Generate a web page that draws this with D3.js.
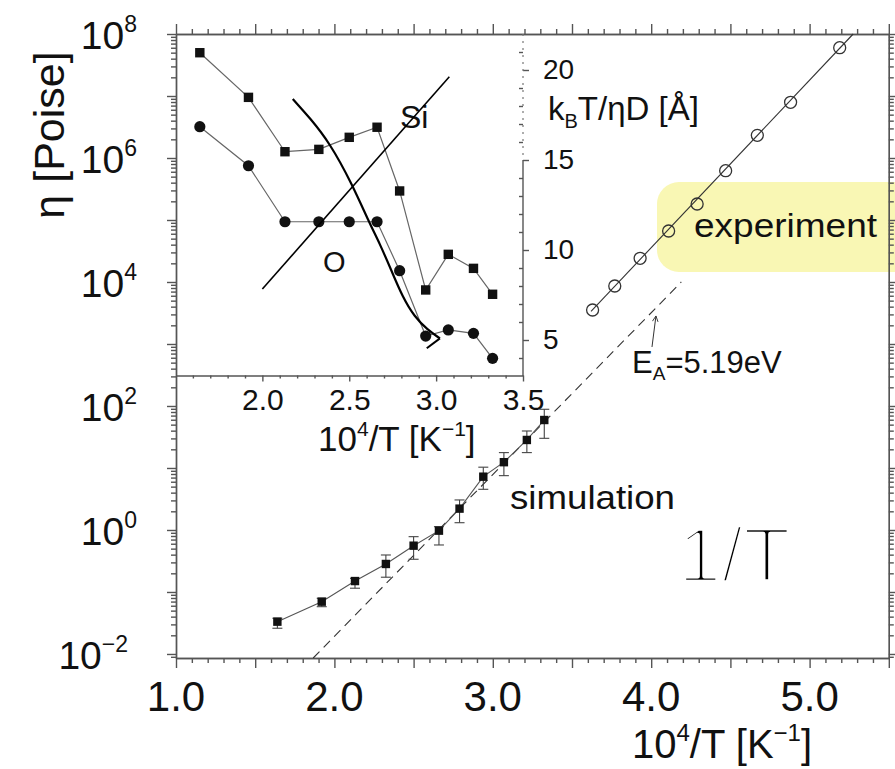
<!DOCTYPE html>
<html lang="en">
<head>
<meta charset="UTF-8">
<title>Viscosity of silica vs inverse temperature</title>
<style>
  body { margin: 0; background: #fff; }
  svg { display: block; font-family: 'Liberation Sans', Arial, sans-serif; }
  .axis path, .axis line { stroke: #555; stroke-width: 1.4; }
  .axis text { fill: #111; font-family: 'Liberation Sans', Arial, sans-serif; }
</style>
</head>
<body>
<svg id="chart" width="895" height="769"></svg>
<script src="https://d3js.org/d3.v7.min.js"></script>
<script>
  // 10^4/T of the simulation runs (same for main plot and inset)
  const invT = [1.64, 1.92, 2.13, 2.325, 2.50, 2.66, 2.79, 2.94, 3.07, 3.215, 3.325];

  // simulated viscosity [Poise] with error bar ends
  const simEta = [0.0332, 0.0698, 0.150, 0.283, 0.558, 0.975, 2.21, 7.24, 12.4, 28.3, 59.4];
  const simLo  = [0.0260, 0.0579, 0.115, 0.173, 0.337, 0.573, 1.31, 4.53, 7.52, 17.7, 30.1];
  const simHi  = [0.0377, 0.0791, 0.166, 0.395, 0.780, 1.13, 3.05, 10.3, 17.7, 39.5, 88.5];

  // experimental viscosity
  const expInvT = [3.63, 3.77, 3.93, 4.11, 4.29, 4.47, 4.67, 4.88, 5.19];
  const expEta  = [3.53e3, 8.61e3, 2.41e4, 6.65e4, 1.81e5, 6.24e5, 2.32e6, 7.91e6, 6.01e7];
  const expFitInvT = [3.62, 5.275];
  const expFitEta  = [3.36e3, 1e8];

  // Arrhenius line, E_A = 5.19 eV
  const arrhInvT = [1.866, 4.19];
  const arrhEta  = [0.00861, 1e4];
  const arrowInvT = [4.005, 4.03];
  const arrowEta  = [895, 2830];

  // inset: k_B T / (eta D) [Angstrom]
  const insetSi = [20.96, 18.48, 15.46, 15.59, 16.26, 16.82, 13.28, 7.78, 9.76, 8.98, 7.54];
  const insetO  = [16.85, 14.68, 11.57, 11.57, 11.57, 11.57, 8.85, 5.22, 5.56, 5.37, 3.98];

  // pen strokes drawn over the inset (inset units)
  const penLineX = [2.0, 3.076];
  const penLineY = [7.83, 19.63];
  const penCurveX = [2.175, 2.274, 2.389, 2.514, 2.617, 2.675, 2.744, 2.807, 2.876, 2.951, 3.022];
  const penCurveY = [18.39, 17.33, 15.93, 13.71, 11.48, 10.37, 8.83, 7.39, 6.28, 5.56, 5.09];
  const penHookX = [3.022, 2.946];
  const penHookY = [5.09, 4.54];

  // ticks
  const xTickLabels = ["1.0", "2.0", "3.0", "4.0", "5.0"];
  const yTickExps = [-2, 0, 2, 4, 6, 8];
  const insetXTicks = [2.0, 2.5, 3.0, 3.5];
  const insetYTicks = [5, 10, 15, 20];

  const svg = d3.select("#chart");

  const x = d3.scaleLinear().domain([1.0, 5.5]).range([176, 888.8]);
  const y = d3.scaleLog().domain([0.00861, 1e8]).range([658, 34]);
  const xi = d3.scaleLinear().domain([1.5, 3.5]).range([175.5, 523]);
  const yi = d3.scaleLinear().domain([3, 22]).range([376, 34]);

  // experiment highlight box (behind everything)
  svg.append("rect")
    .attr("x", 657).attr("y", 182).attr("width", 260).attr("height", 90)
    .attr("rx", 22).attr("fill", "#f9f7b4");

  // ----- main axes -----
  const xMajor = d3.range(10, 56, 5).map(d => d / 10);
  const xMinor = d3.range(10, 56).filter(d => d % 5 !== 0).map(d => d / 10);
  const decades = d3.range(-2, 9).map(e => Math.pow(10, e));
  const logMinor = [];
  d3.range(-3, 8).forEach(e => {
    for (let m = 2; m <= 9; m++) {
      const v = m * Math.pow(10, e);
      if (v >= y.domain()[0] && v <= 1e8) logMinor.push(v);
    }
  });

  svg.append("g").attr("class", "axis").attr("transform", "translate(0,658)")
    .call(d3.axisBottom(x).tickValues(xMajor).tickSize(10).tickSizeOuter(0).tickFormat(""));
  svg.append("g").attr("class", "axis").attr("transform", "translate(0,658)")
    .call(d3.axisBottom(x).tickValues(xMinor).tickSize(5).tickSizeOuter(0).tickFormat(""));
  svg.append("g").attr("class", "axis").attr("transform", "translate(0,34)")
    .call(d3.axisTop(x).tickValues(xMajor).tickSize(10).tickSizeOuter(0).tickFormat(""));
  svg.append("g").attr("class", "axis").attr("transform", "translate(0,34)")
    .call(d3.axisTop(x).tickValues(xMinor).tickSize(5).tickSizeOuter(0).tickFormat(""));

  svg.append("g").attr("class", "axis").attr("transform", "translate(176,0)")
    .call(d3.axisLeft(y).tickValues(decades).tickSize(9).tickSizeOuter(0).tickFormat(""));
  svg.append("g").attr("class", "axis").attr("transform", "translate(176,0)")
    .call(d3.axisLeft(y).tickValues(logMinor).tickSize(5).tickSizeOuter(0).tickFormat(""));
  svg.append("g").attr("class", "axis").attr("transform", "translate(888.8,0)")
    .call(d3.axisRight(y).tickValues(decades).tickSize(9).tickSizeOuter(0).tickFormat(""));
  svg.append("g").attr("class", "axis").attr("transform", "translate(888.8,0)")
    .call(d3.axisRight(y).tickValues(logMinor).tickSize(5).tickSizeOuter(0).tickFormat(""));

  svg.selectAll(".xlab").data(xTickLabels).enter().append("text")
    .attr("x", d => x(+d)).attr("y", 711)
    .attr("text-anchor", "middle").attr("font-size", 42).attr("fill", "#111")
    .text(d => d);

  const ylab = svg.selectAll(".ylab").data(yTickExps).enter().append("text")
    .attr("x", d => d < 0 ? 128 : 137).attr("y", d => y(Math.pow(10, d)) + 15)
    .attr("text-anchor", "end").attr("font-size", 39).attr("fill", "#111");
  ylab.append("tspan").text("10");
  ylab.append("tspan").attr("font-size", 23).attr("dy", -17)
    .text(d => d < 0 ? "\u2212" + (-d) : d);

  // axis titles
  const xt = svg.append("text").attr("x", 632).attr("y", 758)
    .attr("font-size", 40).attr("fill", "#111");
  xt.append("tspan").text("10");
  xt.append("tspan").attr("font-size", 24).attr("dy", -17).text("4");
  xt.append("tspan").attr("dy", 17).text("/T [K");
  xt.append("tspan").attr("font-size", 24).attr("dy", -17).text("\u22121");
  xt.append("tspan").attr("dy", 17).text("]");

  svg.append("text")
    .attr("transform", "translate(64,135) rotate(-90)")
    .attr("text-anchor", "middle").attr("font-size", 43).attr("fill", "#111")
    .text("\u03b7 [Poise]");

  // ----- inset axes -----
  svg.append("g").attr("class", "axis").attr("transform", "translate(0,375.5)")
    .call(d3.axisBottom(xi).tickValues(insetXTicks).tickSize(6).tickPadding(7)
      .tickSizeOuter(0).tickFormat(d3.format(".1f")))
    .selectAll("text").attr("font-size", 30);
  svg.append("g").attr("class", "axis").attr("transform", "translate(0,375.5)")
    .call(d3.axisBottom(xi).tickValues(d3.range(16, 35).filter(d => d % 5 !== 0).map(d => d / 10))
      .tickSize(3).tickSizeOuter(0).tickFormat(""))
    .select(".domain").remove();

  const rightAx = svg.append("g").attr("class", "axis").attr("transform", "translate(523,0)")
    .call(d3.axisRight(yi).tickValues(insetYTicks).tickSize(6).tickPadding(14).tickSizeOuter(0));
  rightAx.selectAll("text").attr("font-size", 28);
  rightAx.select(".domain").remove();
  svg.append("g").attr("class", "axis").attr("transform", "translate(523,0)")
    .call(d3.axisLeft(yi).tickValues(d3.range(4, 22).filter(d => d % 5 !== 0)).tickSize(4).tickFormat(""))
    .select(".domain").remove();
  svg.append("line").attr("x1", 523).attr("x2", 523).attr("y1", yi(15)).attr("y2", 376)
    .attr("stroke", "#555").attr("stroke-width", 1.4);
  svg.append("line").attr("x1", 523).attr("x2", 523).attr("y1", 34).attr("y2", yi(15))
    .attr("stroke", "#777").attr("stroke-width", 1.2).attr("stroke-dasharray", "2,5");

  const it = svg.append("text").attr("x", 318).attr("y", 451)
    .attr("font-size", 35).attr("fill", "#111");
  it.append("tspan").text("10");
  it.append("tspan").attr("font-size", 21).attr("dy", -15).text("4");
  it.append("tspan").attr("dy", 15).text("/T [K");
  it.append("tspan").attr("font-size", 21).attr("dy", -15).text("\u22121");
  it.append("tspan").attr("dy", 15).text("]");

  const iy = svg.append("text").attr("x", 548).attr("y", 120)
    .attr("font-size", 33).attr("fill", "#111");
  iy.append("tspan").text("k");
  iy.append("tspan").attr("font-size", 20).attr("dy", 8).text("B");
  iy.append("tspan").attr("dy", -8).text("T/\u03b7D [\u00c5]");

  // ----- inset data -----
  const insetLine = d3.line().x((d, i) => xi(invT[i])).y(d => yi(d));
  svg.append("path").datum(insetSi).attr("d", insetLine)
    .attr("fill", "none").attr("stroke", "#666").attr("stroke-width", 1.2);
  svg.append("path").datum(insetO).attr("d", insetLine)
    .attr("fill", "none").attr("stroke", "#666").attr("stroke-width", 1.2);
  svg.selectAll(".siPt").data(insetSi).enter().append("rect")
    .attr("x", (d, i) => xi(invT[i]) - 4.7).attr("y", d => yi(d) - 4.7)
    .attr("width", 9.4).attr("height", 9.4).attr("fill", "#111");
  svg.selectAll(".oPt").data(insetO).enter().append("circle")
    .attr("cx", (d, i) => xi(invT[i])).attr("cy", d => yi(d)).attr("r", 5.6)
    .attr("fill", "#111");

  svg.append("text").attr("x", 400).attr("y", 128).attr("font-size", 32).attr("fill", "#111").text("Si");
  svg.append("text").attr("x", 323).attr("y", 272).attr("font-size", 29).attr("fill", "#111").text("O");

  // pen strokes over the inset
  const penLine = d3.line().x(d => xi(d[0])).y(d => yi(d[1]));
  svg.append("path").datum(d3.zip(penLineX, penLineY)).attr("d", penLine)
    .attr("fill", "none").attr("stroke", "#000").attr("stroke-width", 1.6);
  svg.append("path").datum(d3.zip(penCurveX, penCurveY))
    .attr("d", d3.line().x(d => xi(d[0])).y(d => yi(d[1])).curve(d3.curveBasis))
    .attr("fill", "none").attr("stroke", "#000").attr("stroke-width", 2.2);
  svg.append("path").datum(d3.zip(penHookX, penHookY))
    .attr("d", penLine)
    .attr("fill", "none").attr("stroke", "#000").attr("stroke-width", 2);

  // ----- main data -----
  const mainLine = d3.line().x(d => x(d[0])).y(d => y(d[1]));

  svg.append("path").datum(d3.zip(arrhInvT, arrhEta)).attr("d", mainLine)
    .attr("fill", "none").attr("stroke", "#333").attr("stroke-width", 1.1)
    .attr("stroke-dasharray", "9,6");

  svg.append("path").datum(d3.zip(expFitInvT, expFitEta)).attr("d", mainLine)
    .attr("fill", "none").attr("stroke", "#333").attr("stroke-width", 1.1);
  svg.selectAll(".expPt").data(expEta).enter().append("circle")
    .attr("cx", (d, i) => x(expInvT[i])).attr("cy", d => y(d)).attr("r", 6)
    .attr("fill", "none").attr("stroke", "#333").attr("stroke-width", 1.3);

  svg.append("path").datum(d3.zip(invT, simEta)).attr("d", mainLine)
    .attr("fill", "none").attr("stroke", "#555").attr("stroke-width", 1.1);
  const err = svg.selectAll(".err").data(simEta).enter().append("g")
    .attr("stroke", "#444").attr("stroke-width", 1.1);
  err.append("line")
    .attr("x1", (d, i) => x(invT[i])).attr("x2", (d, i) => x(invT[i]))
    .attr("y1", (d, i) => y(simLo[i])).attr("y2", (d, i) => y(simHi[i]));
  err.append("line")
    .attr("x1", (d, i) => x(invT[i]) - 5).attr("x2", (d, i) => x(invT[i]) + 5)
    .attr("y1", (d, i) => y(simLo[i])).attr("y2", (d, i) => y(simLo[i]));
  err.append("line")
    .attr("x1", (d, i) => x(invT[i]) - 5).attr("x2", (d, i) => x(invT[i]) + 5)
    .attr("y1", (d, i) => y(simHi[i])).attr("y2", (d, i) => y(simHi[i]));
  svg.selectAll(".simPt").data(simEta).enter().append("rect")
    .attr("x", (d, i) => x(invT[i]) - 4.2).attr("y", d => y(d) - 4.2)
    .attr("width", 8.4).attr("height", 8.4).attr("fill", "#111");

  // E_A label with arrow
  svg.append("defs").append("marker")
    .attr("id", "arr").attr("viewBox", "0 0 10 10").attr("refX", 9).attr("refY", 5)
    .attr("markerWidth", 7).attr("markerHeight", 7).attr("orient", "auto")
    .append("path").attr("d", "M1,1L9,5L1,9").attr("fill", "none")
    .attr("stroke", "#333").attr("stroke-width", 1.3);
  svg.append("path").datum(d3.zip(arrowInvT, arrowEta)).attr("d", mainLine)
    .attr("fill", "none").attr("stroke", "#333").attr("stroke-width", 1)
    .attr("marker-end", "url(#arr)");
  const ea = svg.append("text").attr("x", 632).attr("y", 373)
    .attr("font-size", 31).attr("fill", "#111");
  ea.append("tspan").text("E");
  ea.append("tspan").attr("font-size", 19).attr("dy", 7).text("A");
  ea.append("tspan").attr("dy", -7).text("=5.19eV");

  svg.append("text").attr("x", 694).attr("y", 237).attr("font-size", 34)
    .attr("textLength", 183).attr("lengthAdjust", "spacingAndGlyphs")
    .attr("fill", "#111").text("experiment");
  svg.append("text").attr("x", 510).attr("y", 509).attr("font-size", 34)
    .attr("textLength", 165).attr("lengthAdjust", "spacingAndGlyphs")
    .attr("fill", "#111").text("simulation");

  // handwritten note
  svg.append("text").attr("x", 678).attr("y", 582).attr("font-size", 78)
    .attr("fill", "#000").attr("stroke", "#fff").attr("stroke-width", 4.5)
    .attr("stroke-linejoin", "round")
    .text("1/T");
</script>
</body>
</html>
